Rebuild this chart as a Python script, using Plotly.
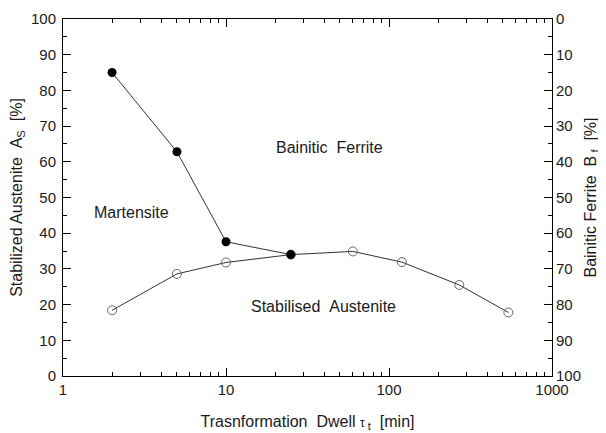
import plotly.graph_objects as go

# Data
dwell_filled = [2, 5, 10, 25]
bainitic_ferrite = [15, 37.2, 62.4, 66]          # right axis (B_f, reversed)
dwell_open = [2, 5, 10, 25, 60, 120, 270, 540]
stab_austenite = [18.4, 28.6, 31.8, 34, 34.9, 31.9, 25.5, 17.8]  # left axis (A_s)

x_major = [1, 10, 100, 1000]
x_minor = [m * d for d in (1, 10, 100) for m in range(2, 10)]
y_ticks = list(range(0, 101, 10))

FONT = "Liberation Sans, Arial, sans-serif"
INK = "#1a1a1a"

fig = go.Figure()
fig.add_trace(go.Scatter(
    x=dwell_open, y=stab_austenite, mode="lines+markers",
    line=dict(color="#333333", width=1),
    marker=dict(symbol="circle-open", size=9, color="#666666", line=dict(width=1)),
    showlegend=False, yaxis="y"))
fig.add_trace(go.Scatter(
    x=dwell_filled, y=bainitic_ferrite, mode="lines+markers",
    line=dict(color="#333333", width=1),
    marker=dict(symbol="circle", size=9, color="black"),
    showlegend=False, yaxis="y2"))

axis_common = dict(showline=True, linecolor="black", linewidth=1, ticks="inside",
                   tickcolor="black", tickwidth=1, ticklen=8, showgrid=False, zeroline=False,
                   tickfont=dict(family=FONT, size=15, color=INK))

fig.update_layout(
    width=598, height=425,
    margin=dict(l=55, r=54, t=11, b=57),
    paper_bgcolor="white", plot_bgcolor="white",
    font=dict(family=FONT, color=INK),
    xaxis=dict(type="log", range=[0, 3], tickvals=x_major, ticktext=[str(v) for v in x_major],
               mirror="ticks",
               minor=dict(tickvals=x_minor, ticks="inside", ticklen=4, tickcolor="black", showgrid=False),
               title=dict(text="Trasnformation\u00a0\u00a0Dwell <span style='font-size:12px'>\u03c4</span><sub> t</sub>\u00a0\u00a0[min]",
                          font=dict(family=FONT, size=16, color=INK), standoff=18),
               automargin=False, **axis_common),
    yaxis=dict(range=[0, 100], tickvals=y_ticks, mirror="ticks", ticklabelstandoff=3,
               minor=dict(dtick=5, ticks="inside", ticklen=4, tickcolor="black", showgrid=False),
               title=dict(text="Stabilized Austenite\u00a0\u00a0A<sub>S</sub>\u00a0\u00a0[%]",
                          font=dict(family=FONT, size=16, color=INK), standoff=4),
               automargin=False, **axis_common),
    yaxis2=dict(range=[100, 0], tickvals=y_ticks, overlaying="y", side="right",
                minor=dict(dtick=5, ticks="inside", ticklen=4, tickcolor="black", showgrid=False),
                title=dict(text="Bainitic Ferrite\u00a0\u00a0B<sub> f</sub>\u00a0\u00a0[%]",
                           font=dict(family=FONT, size=16, color=INK), standoff=4),
                automargin=False, **axis_common),
)

labels = [("Martensite", 0.418, 45.7), ("Bainitic\u00a0\u00a0Ferrite", 1.637, 64),
          ("Stabilised\u00a0\u00a0Austenite", 1.60, 19.4)]
for txt, lx, ly in labels:
    fig.add_annotation(x=lx, y=ly, xref="x", yref="y", text=txt, showarrow=False,
                       font=dict(family=FONT, size=16, color=INK))

fig.write_html("out.html")
